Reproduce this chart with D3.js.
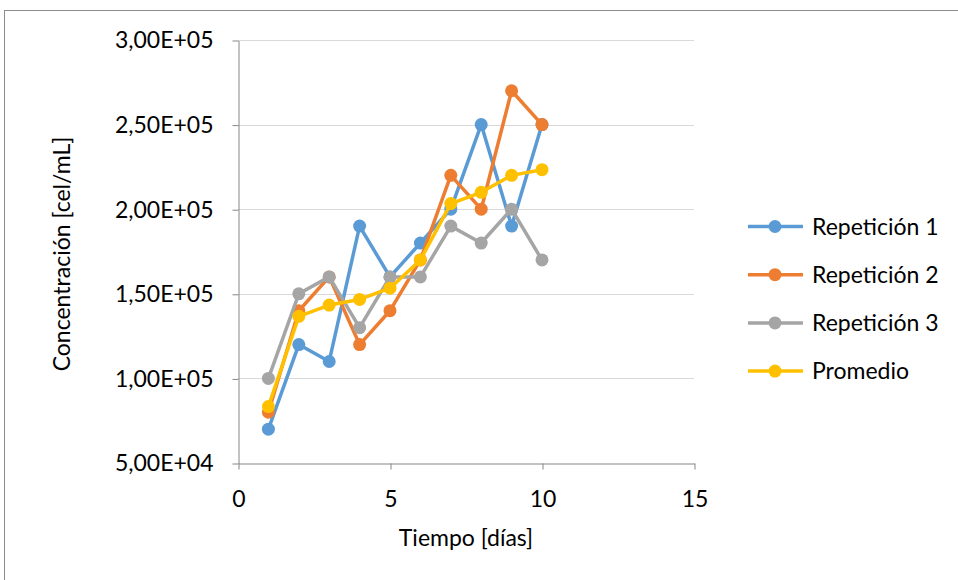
<!DOCTYPE html>
<html>
<head>
<meta charset="utf-8">
<script src="https://cdn.jsdelivr.net/npm/d3@7"></script>
<style>
  body { margin: 0; background: #fff; }
  svg { font-family: Lato, "Open Sans", sans-serif; }
</style>
</head>
<body>
<div id="chart"></div>
<script>
// días
const dias = [1, 2, 3, 4, 5, 6, 7, 8, 9, 10];
const rep1 = [70000, 120000, 110000, 190000, 160000, 180000, 200000, 250000, 190000, 250000];
const rep2 = [80000, 140000, 160000, 120000, 140000, 170000, 220000, 200000, 270000, 250000];
const rep3 = [100000, 150000, 160000, 130000, 160000, 160000, 190000, 180000, 200000, 170000];
const promedio = [83333, 136667, 143333, 146667, 153333, 170000, 203333, 210000, 220000, 223333];
const seriesNames = ["Repetición 1", "Repetición 2", "Repetición 3", "Promedio"];
const xTicks = [0, 5, 10, 15];
const yTicks = [50000, 100000, 150000, 200000, 250000, 300000];
const yTickLabels = ["5,00E+04", "1,00E+05", "1,50E+05", "2,00E+05", "2,50E+05", "3,00E+05"];

const colors = ["#5B9BD5", "#ED7D31", "#A5A5A5", "#FFC000"];
const datasets = [rep1, rep2, rep3, promedio].map((vals, i) => ({
  label: seriesNames[i],
  color: colors[i],
  data: vals.map((v, j) => ({ x: dias[j], y: v }))
}));

const width = 958, height = 580;
const plot = { left: 238, right: 694, top: 40, bottom: 463 };
const fontSize = "23px";

const svg = d3.select("#chart").append("svg")
  .attr("width", width)
  .attr("height", height);

// chart border
svg.append("rect")
  .attr("x", 4.5).attr("y", 10.5)
  .attr("width", 960).attr("height", 580)
  .attr("fill", "none")
  .attr("stroke", "#8c8c8c")
  .attr("stroke-width", 1);

const x = d3.scaleLinear().domain([0, 15]).range([plot.left, plot.right]);
const y = d3.scaleLinear().domain([50000, 300000]).range([plot.bottom, plot.top]);

// gridlines
svg.append("g")
  .selectAll("line")
  .data(yTicks.filter(t => t > 50000))
  .join("line")
  .attr("x1", plot.left).attr("x2", plot.right)
  .attr("y1", d => Math.round(y(d)) + 0.5).attr("y2", d => Math.round(y(d)) + 0.5)
  .attr("stroke", "#d9d9d9")
  .attr("stroke-width", 1);

// y axis
const yAxis = svg.append("g")
  .attr("transform", `translate(${plot.left + 0.5},0.5)`)
  .call(d3.axisLeft(y).tickValues(yTicks).tickSize(6).tickSizeOuter(0).tickPadding(19)
    .tickFormat((d, i) => yTickLabels[i]));
yAxis.select(".domain").attr("stroke", "#868686");
yAxis.selectAll(".tick line").attr("stroke", "#868686");
yAxis.selectAll(".tick text")
  .attr("fill", "#000")
  .style("font-size", fontSize)
  .style("font-family", "Lato, 'Open Sans', sans-serif");

// x axis
const xAxis = svg.append("g")
  .attr("transform", `translate(0.5,${plot.bottom + 0.5})`)
  .call(d3.axisBottom(x).tickValues(xTicks).tickSize(6).tickSizeOuter(0).tickPadding(21));
xAxis.select(".domain").attr("stroke", "#868686");
xAxis.selectAll(".tick line").attr("stroke", "#868686");
xAxis.selectAll(".tick text")
  .attr("fill", "#000")
  .style("font-size", fontSize)
  .style("font-family", "Lato, 'Open Sans', sans-serif");

// axis titles
svg.append("text")
  .attr("x", (plot.left + plot.right) / 2)
  .attr("y", 546)
  .attr("text-anchor", "middle")
  .style("font-size", fontSize)
  .text("Tiempo [días]");

svg.append("text")
  .attr("transform", `translate(70,254) rotate(-90)`)
  .attr("text-anchor", "middle")
  .style("font-size", fontSize)
  .text("Concentración [cel/mL]");

// series
const line = d3.line().x(d => x(d.x)).y(d => y(d.y));
datasets.forEach(ds => {
  const g = svg.append("g");
  g.append("path")
    .datum(ds.data)
    .attr("fill", "none")
    .attr("stroke", ds.color)
    .attr("stroke-width", 3.5)
    .attr("stroke-linejoin", "round")
    .attr("d", line);
  g.selectAll("circle")
    .data(ds.data)
    .join("circle")
    .attr("cx", d => x(d.x))
    .attr("cy", d => y(d.y))
    .attr("r", 6.5)
    .attr("fill", ds.color);
});

// legend
const legend = svg.append("g");
datasets.forEach((ds, i) => {
  const ly = 226.5 + i * 48.2;
  legend.append("line")
    .attr("x1", 748).attr("x2", 803)
    .attr("y1", ly).attr("y2", ly)
    .attr("stroke", ds.color)
    .attr("stroke-width", 3.5);
  legend.append("circle")
    .attr("cx", 775).attr("cy", ly)
    .attr("r", 6.5)
    .attr("fill", ds.color);
  legend.append("text")
    .attr("x", 812)
    .attr("y", ly)
    .attr("dy", "0.35em")
    .style("font-size", fontSize)
    .text(ds.label);
});
</script>
</body>
</html>
